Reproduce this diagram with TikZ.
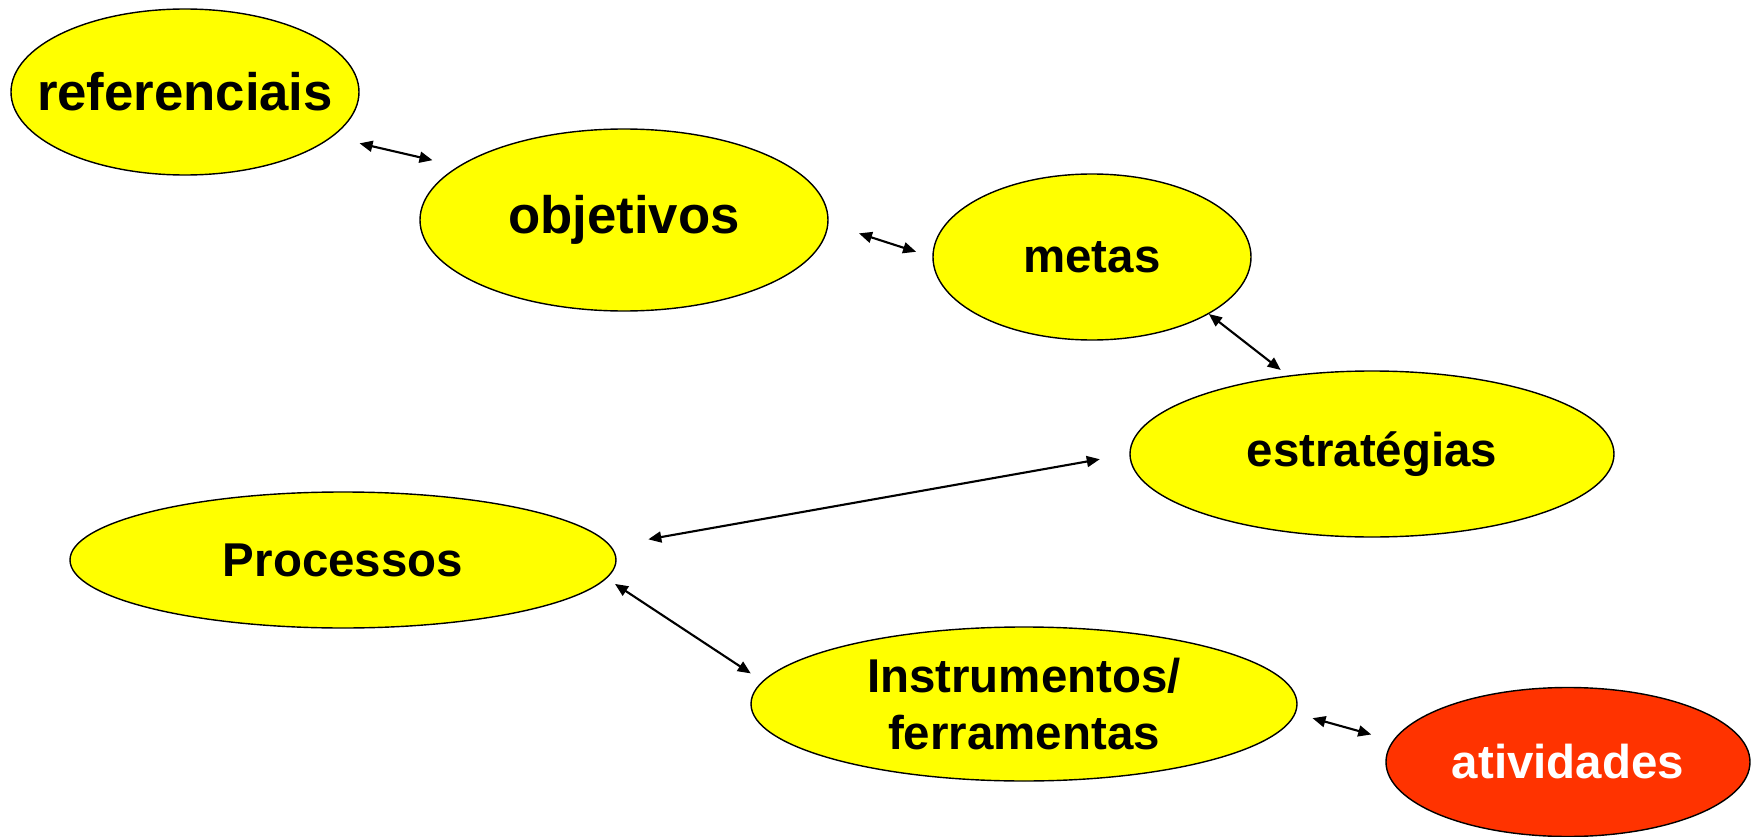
\documentclass[tikz,border=0pt]{standalone}
\usepackage{fontspec}
\setmainfont{Liberation Sans}
\usetikzlibrary{%
  arrows.meta,%
  shapes.geometric,% wg. ellipse
  positioning%
}
\definecolor{goalyellow}{HTML}{FFFF00}
\definecolor{actred}{HTML}{FF3300}

\begin{document}
\begin{tikzpicture}[
  font=\bfseries\fontsize{13.5}{16}\selectfont, >={Triangle[length=1.3mm,width=1.1mm]},
  bubble/.style={ellipse, inner sep=0pt, draw=black, line width=0.4pt, fill=goalyellow, align=center},
  actbubble/.style={bubble, fill=actred, text=white},
  link/.style={<->, line width=0.6pt, draw=black}
]

\useasboundingbox (0,0) rectangle (17.54,-8.37);

\node[bubble, minimum width=3.48cm, minimum height=1.66cm, font=\bfseries\fontsize{15}{18}\selectfont] (ref) at (1.85,-0.92) {\makebox[0pt]{referenciais}};
\node[bubble, minimum width=4.08cm, minimum height=1.82cm, font=\bfseries\fontsize{15}{18}\selectfont] (obj) at (6.24,-2.20) {objetivos};
\node[bubble, minimum width=3.18cm, minimum height=1.66cm] (metas) at (10.92,-2.57) {metas};
\node[bubble, minimum width=4.84cm, minimum height=1.66cm] (estr) at (13.72,-4.54) {estratégias};
\node[bubble, minimum width=5.46cm, minimum height=1.36cm] (proc) at (3.43,-5.60) {Processos};
\node[bubble, minimum width=5.46cm, minimum height=1.54cm] (instr) at (10.24,-7.04) {Instrumentos/\\ferramentas};
\node[actbubble, minimum width=3.64cm, minimum height=1.49cm] (ativ) at (15.68,-7.62) {atividades};

\draw[link, shorten <=2.8mm, shorten >=2.65mm] (ref.-17) -- (obj.162);
\draw[link, shorten <=3.2mm, shorten >=1.7mm] (obj.-1.5) -- (metas.180);
\draw[link, shorten <=0mm, shorten >=0.9mm] (metas.-26) -- (estr.137);
\draw[link, shorten <=3mm, shorten >=3.8mm] (estr.180) -- (proc.3);
\draw[link, shorten <=1mm, shorten >=1.4mm] (proc.-4) -- (instr.175);
\draw[link, shorten <=1.75mm, shorten >=2.25mm] (instr.-2.5) -- (ativ.173);

\end{tikzpicture}
\end{document}
